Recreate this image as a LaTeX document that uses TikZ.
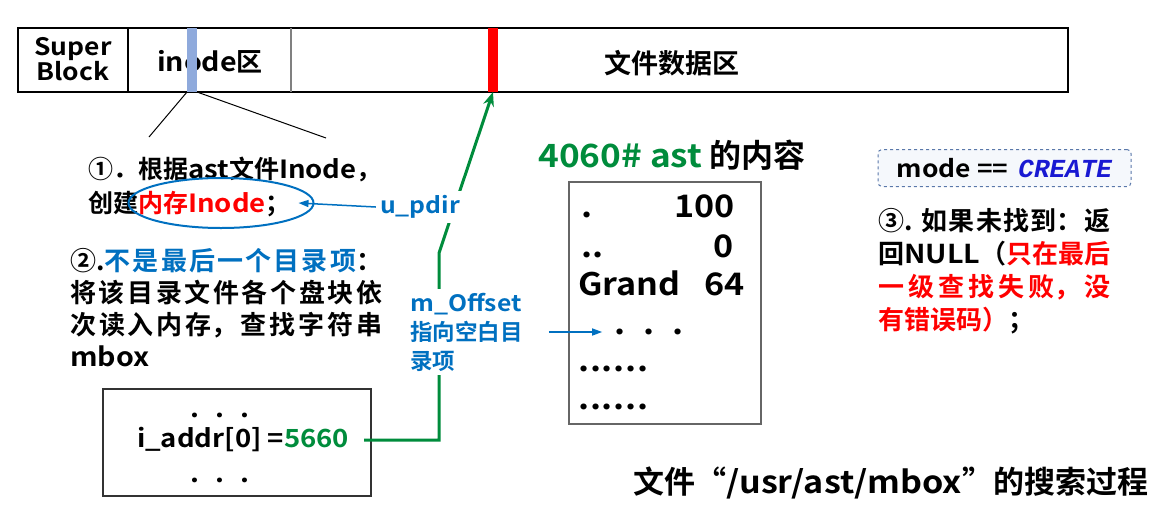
\documentclass[tikz,border=0pt]{standalone}
\usepackage{fontspec}
\setmainfont{Noto Sans CJK SC Bold}
\newfontfamily\latfam{Noto Sans CJK SC Bold}[FakeStretch=1.1]
\newcommand{\lat}{\latfam}
\newfontfamily\codefont{Liberation Mono}
\usetikzlibrary{shapes.geometric,arrows.meta}

\definecolor{grn}{RGB}{0,140,60}
\definecolor{blu}{RGB}{0,112,192}
\definecolor{stripblue}{RGB}{143,170,220}
\definecolor{modefill}{RGB}{245,248,252}
\definecolor{modeline}{RGB}{90,120,170}
\definecolor{crt}{RGB}{25,25,210}

\newcommand{\zhbreak}{\XeTeXlinebreaklocale "zh"\XeTeXlinebreakskip=0pt plus 12pt\relax}
\newcommand{\sixdots}{.\kern0.8pt.\kern0.8pt.\kern0.8pt.\kern0.8pt.\kern0.8pt.}

\begin{document}
\begin{tikzpicture}[x=1pt, y=-1pt,
    bar/.style={line width=1.5pt},
    strip/.style={minimum width=10pt, minimum height=64pt, inner sep=0pt, outer sep=0pt},
    cn/.style={inner sep=0pt, align=left},
    lbl/.style={text=blu, fill=white, inner sep=4pt, align=left, font=\fontsize{22.5}{29}\selectfont},
    row/.style={inner sep=0pt, font=\lat\fontsize{31}{31}\selectfont},
    grnline/.style={draw=grn, line width=3pt, -{Stealth[length=14pt,width=11pt]}},
    bluarrow/.style={draw=blu, line width=1.5pt, -{Triangle[length=10pt,width=7pt]}}]
    \useasboundingbox (0,0) rectangle (1172,509);

    % disk layout
    \draw [bar] (18,28) rectangle (1068,92);
    \draw [bar] (128,28) -- (128,92);
    \draw [bar, gray] (291,28) -- (291,92);
    \node [cn, align=center, font=\lat\fontsize{24}{23}\selectfont] (sblk) at (73,59) {Super\\Block};
    \node [cn, font=\fontsize{26}{26}\selectfont] (inoarea) at (210,62) {{\lat inode}区};
    \node [cn, font=\fontsize{27}{27}\selectfont] (dataarea) at (672,63) {文件数据区};
    \node [strip, fill=stripblue] (inoblk) at (192,60) {};
    \node [strip, fill=red] (datablk) at (493,60) {};
    \coordinate (zl) at (149,137);
    \coordinate (zr) at (326,138);
    \draw [line width=1pt] (inoblk.south west) -- (zl);
    \draw [line width=1pt] (inoblk.south east) -- (zr);

    % inode in memory
    \draw [line width=1.5pt, black!80] (103,389) rectangle (371,496);
    \node [row, font=\lat\fontsize{25}{25}\selectfont] (adots1) at (220,415) {.\kern16pt.\kern16pt.};
    \node [row, font=\lat\fontsize{25}{25}\selectfont] (addr) at (243,440) {i\_addr[0] =\textcolor{grn}{5660}};
    \node [row, font=\lat\fontsize{25}{25}\selectfont] (adots2) at (220,480) {.\kern16pt.\kern16pt.};
    \coordinate (gturn) at (439,253);
    \draw [grnline] ([xshift=15pt]addr.east) -- (addr.east -| gturn) -- (gturn) -- (datablk.south);

    % steps
    \node [cn, anchor=west, font=\fontsize{25}{34}\selectfont] (step1) at (88,187)
        {①．根据{\lat ast}文件{\lat Inode}，\\创建\textcolor{red}{内存{\lat Inode}}；};
    \node [draw=blu, line width=2pt, ellipse, minimum width=185pt, minimum height=50pt, inner sep=0pt] (ell) at (221,203) {};
    \node [cn, anchor=west, text width=312pt, align=justify, font=\fontsize{26}{32}\selectfont\zhbreak] (step2) at (70,308)
        {②.\textcolor{blu}{不是最后一个目录项}：\linebreak 将该目录文件各个盘块依\linebreak 次读入内存，查找字符串\linebreak {\lat mbox}};
    \node [lbl] (pdir) at (420,207) {\lat u\_pdir};
    \node [lbl, anchor=west] (moff) at (406,332) {{\lat m\_Offset}\\指向空白目\\录项};
    \draw [bluarrow] (pdir.west) -- ([xshift=-16pt]ell.east);

    % directory file 4060
    \node [cn, font=\fontsize{32}{32}\selectfont] (asttitle) at (672,155) {\textcolor{grn}{\lat 4060\# ast} 的内容};
    \draw [line width=1.5pt, black!60] (569,182) rectangle (761,424);
    \node [row, anchor=base west] (dot1) at (581,217) {.};
    \node [row, anchor=base east] (n100) at (735,217) {100};
    \node [row, anchor=base west] (dot2) at (581,257) {..};
    \node [row, anchor=base east] (n0) at (734,257) {0};
    \node [row, anchor=base west] (grand) at (578,295) {Grand};
    \node [row, anchor=base east] (n64) at (745,295) {64};
    \node [row] (slot) at (649,332) {.\kern18pt.\kern18pt.};
    \node [row, anchor=west] (more1) at (578,369) {\sixdots};
    \node [row, anchor=west] (more2) at (578,407) {\sixdots};
    \draw [bluarrow] ([xshift=22pt]moff.east) -- ([xshift=-12pt]slot.west);

    % not found
    \node [draw=modeline, dashed, rounded corners=4pt, fill=modefill, line width=1pt,
        minimum width=253pt, minimum height=37pt, inner sep=0pt] (modebox) at (1004.5,168)
        {{\lat\fontsize{24}{24}\selectfont mode ==}\hspace{10pt}{\codefont\bfseries\itshape\fontsize{26}{26}\selectfont\textcolor{crt}{CREATE}}};
    \node [cn, anchor=west, text width=232pt, align=justify, font=\fontsize{26}{33}\selectfont\zhbreak] (step3) at (878,271)
        {③. 如果未找到：返\linebreak 回{\lat NULL}（\textcolor{red}{只在最后}\linebreak \textcolor{red}{一级查找失败，没}\linebreak \textcolor{red}{有错误码）}；};

    \node [cn, font=\fontsize{31}{31}\selectfont] (caption) at (891,483) {文件“{\lat /usr/ast/mbox}”的搜索过程};
\end{tikzpicture}
\end{document}
